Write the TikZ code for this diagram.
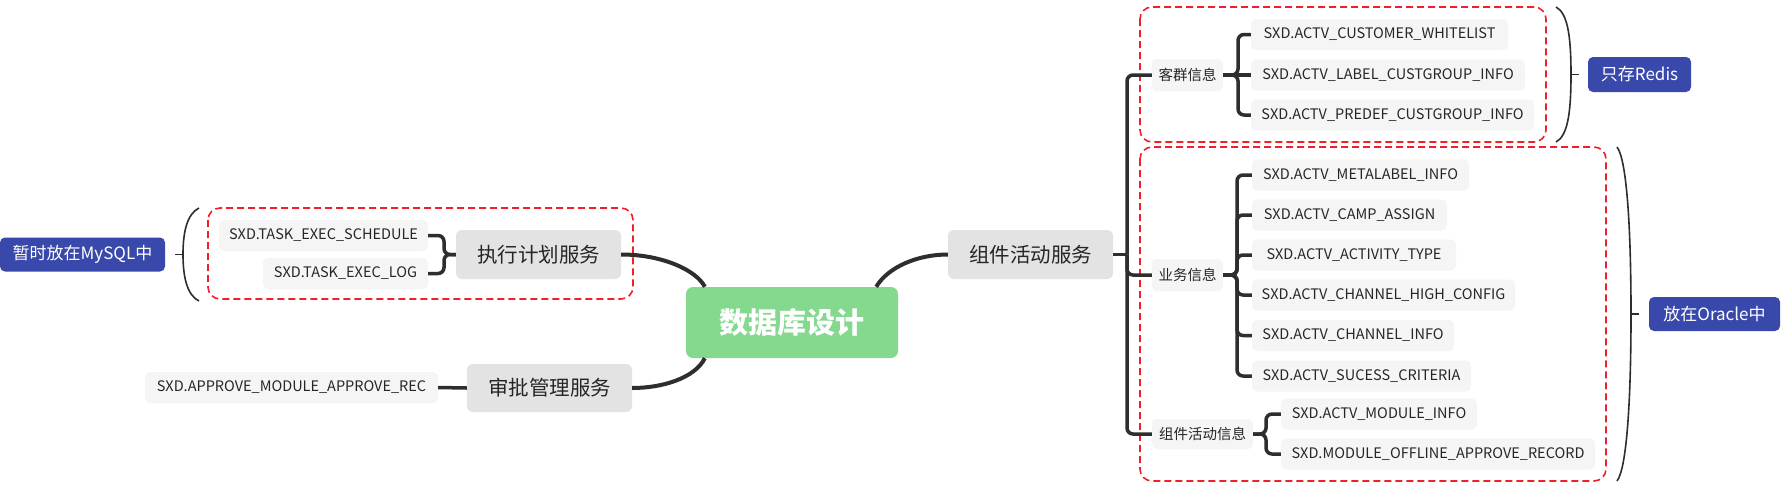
\documentclass[tikz,border=0pt]{standalone}
\usepackage{fontspec}
\newfontfamily\cjk{Noto Sans CJK SC}
\usetikzlibrary{calc}
\definecolor{leafgray}{HTML}{F5F5F5}
\definecolor{svcgray}{HTML}{E3E3E3}
\definecolor{rootgreen}{HTML}{84D98F}
\definecolor{noteblue}{HTML}{3949AB}
\definecolor{zonered}{HTML}{F0202A}
\definecolor{linec}{HTML}{2E2E2E}
\definecolor{txt}{HTML}{262626}
\tikzset{
  leaf/.style={fill=leafgray, rounded corners=5pt, minimum height=31pt, inner sep=0pt, text=txt, font=\cjk\fontsize{14.5}{16}\selectfont},
  sub/.style={fill=leafgray, rounded corners=5pt, minimum height=31pt, inner sep=0pt, text=txt, font=\cjk\fontsize{14.5}{16}\selectfont},
  svc/.style={fill=svcgray, rounded corners=6pt, minimum height=49pt, minimum width=165pt, inner sep=0pt, text=txt, font=\cjk\fontsize{20.5}{24}\selectfont},
  root/.style={fill=rootgreen, rounded corners=7pt, minimum height=71pt, minimum width=212pt, inner sep=0pt, text=white, font=\cjk\fontsize{29}{32}\selectfont\bfseries},
  note/.style={fill=noteblue, rounded corners=5pt, minimum height=35pt, inner sep=0pt, text=white, font=\cjk\fontsize{17}{18}\selectfont},
  conn/.style={draw=linec, line width=3.5pt, rounded corners=6pt},
  mainconn/.style={draw=linec, line width=4pt},
  bracecurve/.style={draw=linec, line width=1.6pt},
  zone/.style={draw=zonered, dash pattern=on 7pt off 4pt, line width=1.6pt, rounded corners=12pt},
}
\begin{document}
\begin{tikzpicture}[x=1pt, y=-1pt]
\useasboundingbox[fill=white] (0,0) rectangle (1788,498);

% zones
\draw[zone] (208,208) rectangle (633,299);
\draw[zone] (1140,7) rectangle (1546,142);
\draw[zone] (1140,147) rectangle (1606,481);

% root
\node[root] (root) at (792,322.5) {数据库设计};

% left side
\node[svc] (exec) at (538.5,254.5) {执行计划服务};
\node[leaf, minimum width=209pt] (sched) at (323.5,235.5) {SXD.TASK\_EXEC\_SCHEDULE};
\node[leaf, minimum width=165pt] (elog) at (345.5,273.5) {SXD.TASK\_EXEC\_LOG};
\node[svc, minimum height=48pt] (appr) at (549.5,388) {审批管理服务};
\node[leaf, minimum width=293pt] (apprec) at (291.5,387.5) {SXD.APPROVE\_MODULE\_APPROVE\_REC};
\node[note, minimum width=165pt, minimum height=34pt] (mysql) at (82.5,254.5) {暂时放在MySQL中};

% right side
\node[svc] (comp) at (1030.5,254.5) {组件活动服务};
\node[sub, minimum width=71pt, minimum height=32pt] (kq) at (1187.5,75) {客群信息};
\node[leaf, minimum width=257pt] (wl) at (1379.5,34.5) {SXD.ACTV\_CUSTOMER\_WHITELIST};
\node[leaf, minimum width=274pt] (lbl) at (1388,75) {SXD.ACTV\_LABEL\_CUSTGROUP\_INFO};
\node[leaf, minimum width=283pt] (pre) at (1392.5,115) {SXD.ACTV\_PREDEF\_CUSTGROUP\_INFO};
\node[note, minimum width=103pt] (redis) at (1639.5,74.5) {只存Redis};

\node[sub, minimum width=71pt, minimum height=32pt] (yw) at (1187.5,275) {业务信息};
\node[leaf, minimum width=217pt] (meta) at (1360.5,175) {SXD.ACTV\_METALABEL\_INFO};
\node[leaf, minimum width=195pt] (camp) at (1349.5,215) {SXD.ACTV\_CAMP\_ASSIGN};
\node[leaf, minimum width=204pt] (atype) at (1354,255) {SXD.ACTV\_ACTIVITY\_TYPE};
\node[leaf, minimum width=263pt] (hcfg) at (1383.5,295) {SXD.ACTV\_CHANNEL\_HIGH\_CONFIG};
\node[leaf, minimum width=202pt] (chinfo) at (1353,335.5) {SXD.ACTV\_CHANNEL\_INFO};
\node[leaf, minimum width=219pt] (succ) at (1361.5,376) {SXD.ACTV\_SUCESS\_CRITERIA};

\node[sub, minimum width=101pt, minimum height=30pt] (zj) at (1202.5,434) {组件活动信息};
\node[leaf, minimum width=196pt] (modinfo) at (1379,414) {SXD.ACTV\_MODULE\_INFO};
\node[leaf, minimum width=314pt] (offl) at (1438,454) {SXD.MODULE\_OFFLINE\_APPROVE\_RECORD};

\node[note, minimum width=131pt, minimum height=34pt] (oracle) at (1714.5,314) {放在Oracle中};

% main connectors
\draw[mainconn] (exec.east) .. controls +(42,0) and +(-8,-16) .. ([xshift=19pt]root.north west);
\draw[mainconn] ([xshift=19pt]root.south west) .. controls +(-10,20) and +(30,0) .. (appr.east);
\draw[mainconn] ([xshift=-22pt]root.north east) .. controls +(12,-20) and +(-30,0) .. (comp.west);
\draw[conn] (apprec.east) -- (appr.west);

% left bracket
\draw[conn] (exec.west) -- (444,254.5) |- (sched.east);
\draw[conn] (exec.west) -- (444,254.5) |- (elog.east);

% right trunk
\draw[conn] (comp.east) -- (1127,254.5);
\draw[conn] (1127,254.5) |- (kq.west);
\draw[conn] (1127,254.5) |- (yw.west);
\draw[conn] (1127,254.5) |- (zj.west);

% kq bracket
\draw[conn] (kq.east) -- (1238,75) |- (wl.west);
\draw[conn] (kq.east) -- (lbl.west);
\draw[conn] (kq.east) -- (1238,75) |- (pre.west);

% yw bracket
\foreach \c in {meta,camp,atype,hcfg,chinfo,succ}{
  \draw[conn] (yw.east) -- (1237,275) |- (\c.west);
}
% zj bracket
\draw[conn] (zj.east) -- (1266,434) |- (modinfo.west);
\draw[conn] (zj.east) -- (1266,434) |- (offl.west);

% braces
\draw[bracecurve] (199,208) .. controls (187,214) and (183,232) .. (183,254.5) .. controls (183,277) and (187,295) .. (199,301);
\coordinate (lt) at (183,254.5);
\draw[bracecurve] (lt) -- ++(-8,0);

\draw[bracecurve] (1556,7) .. controls (1567,13) and (1571,33) .. (1571,74.5) .. controls (1571,116) and (1567,136) .. (1556,142);
\coordinate (rt) at (1571,74.5);
\draw[bracecurve] (rt) -- ++(8,0);

\draw[bracecurve] (1617,147) .. controls (1627,160) and (1631,230) .. (1631,314) .. controls (1631,398) and (1627,468) .. (1617,481);
\coordinate (ot) at (1631,314);
\draw[bracecurve] (ot) -- ++(8,0);
\end{tikzpicture}
\end{document}
